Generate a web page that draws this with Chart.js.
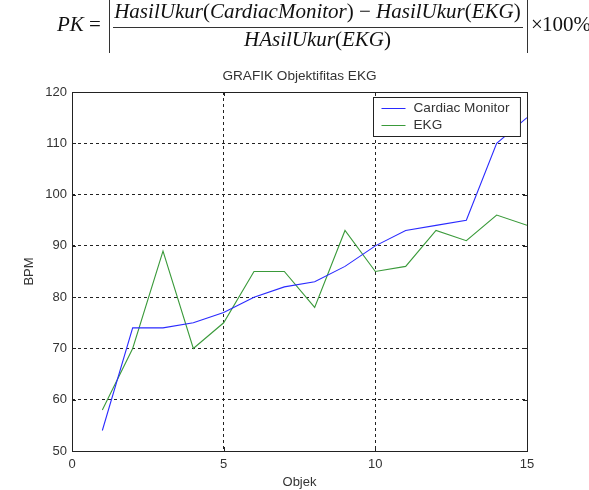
<!DOCTYPE html>
<html>
<head>
<meta charset="utf-8">
<script src="https://cdn.jsdelivr.net/npm/chart.js@4.4.1/dist/chart.umd.min.js"></script>
<style>
    body { margin: 0; background: #fff; }
    #wrap { position: relative; width: 589px; height: 490px; overflow: hidden; }
    #chart { position: absolute; left: 0; top: 0; }
    .f { position: absolute; font-family: 'Liberation Serif', 'Times New Roman', serif; font-style: italic; font-size: 21px; line-height: 21px; color: #111; white-space: nowrap; }
    .up { font-style: normal; }
    .bar { position: absolute; background: #333; }
</style>
</head>
<body>
<div id="wrap">
    <canvas id="chart" width="589" height="490"></canvas>
    <!-- formula above the chart -->
    <div class="f" style="left:57px; top:14.4px;">PK</div>
    <div class="f up" style="left:89px; top:14.4px;">=</div>
    <div class="bar" style="left:108.5px; top:0; width:1.5px; height:53px;"></div>
    <div class="f" style="left:113px; top:1.4px; width:409px; text-align:center;">HasilUkur<span class="up">(</span>CardiacMonitor<span class="up">) − </span>HasilUkur<span class="up">(</span>EKG<span class="up">)</span></div>
    <div class="bar" style="left:113px; top:26.5px; width:410px; height:1.2px;"></div>
    <div class="f" style="left:113px; top:29.4px; width:409px; text-align:center;">HAsilUkur<span class="up">(</span>EKG<span class="up">)</span></div>
    <div class="bar" style="left:526.5px; top:0; width:1.5px; height:53px;"></div>
    <div class="f up" style="left:531px; top:14.4px;">×</div>
    <div class="f up" style="left:542px; top:14.4px;">100%</div>
</div>
<script>
const objek = [1, 2, 3, 4, 5, 6, 7, 8, 9, 10, 11, 12, 13, 14, 15];
const cardiacMonitor = [54, 74, 74, 75, 77, 80, 82, 83, 86, 90, 93, 94, 95, 110, 115];
const ekg = [58, 70, 89, 70, 75, 85, 85, 78, 93, 85, 86, 93, 91, 96, 94];
const xTicks = [0, 5, 10, 15];
const yTicks = [50, 60, 70, 80, 90, 100, 110, 120];
const chartTitle = 'GRAFIK Objektifitas EKG';

const FONT = "'Liberation Sans', Arial, sans-serif";
const TEXT = '#333';

// grid lines only inside the box, box drawn separately
function innerGrid(ctx) {
    const t = ctx.scale.ticks;
    if (ctx.index === 0 || ctx.index === t.length - 1) return 'rgba(0,0,0,0)';
    return '#222';
}

const boxPlugin = {
    id: 'box',
    afterDraw(chart) {
        const { ctx, chartArea: a, scales } = chart;
        ctx.save();
        ctx.strokeStyle = '#222';
        ctx.lineWidth = 1;
        ctx.strokeRect(a.left + 0.5, a.top + 0.5, a.right - a.left, a.bottom - a.top);
        // small inward tick marks
        ctx.beginPath();
        xTicks.forEach(v => {
            const x = Math.round(scales.x.getPixelForValue(v)) + 0.5;
            ctx.moveTo(x, a.bottom); ctx.lineTo(x, a.bottom - 4);
            ctx.moveTo(x, a.top); ctx.lineTo(x, a.top + 4);
        });
        yTicks.forEach(v => {
            const y = Math.round(scales.y.getPixelForValue(v)) + 0.5;
            ctx.moveTo(a.left, y); ctx.lineTo(a.left + 4, y);
            ctx.moveTo(a.right, y); ctx.lineTo(a.right - 4, y);
        });
        ctx.stroke();

        // title centred over the plot box
        ctx.font = '13.6px ' + FONT;
        ctx.fillStyle = TEXT;
        ctx.textAlign = 'center';
        ctx.textBaseline = 'middle';
        ctx.fillText(chartTitle, (a.left + a.right) / 2, a.top - 16);

        // legend box in the top right corner
        ctx.textAlign = 'left';
        const sets = chart.data.datasets;
        const textW = Math.max(...sets.map(d => ctx.measureText(d.label).width));
        const bx = a.right - 154 + 0.5;
        const by = a.top + 5 + 0.5;
        const bw = 8 + 24 + 8 + textW + 11;
        ctx.fillStyle = '#fff';
        ctx.fillRect(bx, by, bw, 39);
        ctx.strokeStyle = '#222';
        ctx.strokeRect(bx, by, bw, 39);
        sets.forEach((d, i) => {
            const y = by + 11 + i * 17;
            ctx.strokeStyle = d.borderColor;
            ctx.beginPath();
            ctx.moveTo(bx + 8, y); ctx.lineTo(bx + 32, y);
            ctx.stroke();
            ctx.fillStyle = TEXT;
            ctx.fillText(d.label, bx + 40, y);
        });
        ctx.restore();
    }
};

const bgPlugin = {
    id: 'bg',
    beforeDraw(chart) {
        const ctx = chart.ctx;
        ctx.save();
        ctx.fillStyle = '#fff';
        ctx.fillRect(0, 0, chart.width, chart.height);
        ctx.restore();
    }
};

new Chart(document.getElementById('chart'), {
    type: 'line',
    data: {
        datasets: [{
            label: 'Cardiac Monitor',
            data: objek.map((x, i) => ({ x: x, y: cardiacMonitor[i] })),
            borderColor: '#2a2aff',
            borderWidth: 1.1,
            pointRadius: 0,
            tension: 0,
            fill: false
        }, {
            label: 'EKG',
            data: objek.map((x, i) => ({ x: x, y: ekg[i] })),
            borderColor: '#3a9a3a',
            borderWidth: 1.1,
            pointRadius: 0,
            tension: 0,
            fill: false
        }]
    },
    options: {
        responsive: false,
        animation: false,
        events: [],
        layout: { padding: { left: 0, right: 62, top: 92, bottom: 0 } },
        plugins: {
            legend: { display: false },
            tooltip: { enabled: false },
            title: { display: false }
        },
        scales: {
            x: {
                type: 'linear',
                min: 0,
                max: 15,
                afterBuildTicks: s => { s.ticks = xTicks.map(v => ({ value: v })); },
                afterFit: s => { s.height = 39; },
                border: { display: false, dash: [3, 3] },
                grid: { color: innerGrid, drawTicks: false, lineWidth: 1 },
                ticks: { color: TEXT, font: { family: FONT, size: 13 }, padding: 6, maxRotation: 0 },
                title: { display: true, text: 'Objek', color: TEXT, font: { family: FONT, size: 13 }, padding: { top: 0, bottom: 0 } }
            },
            y: {
                min: 50,
                max: 120,
                afterBuildTicks: s => { s.ticks = yTicks.map(v => ({ value: v })); },
                afterFit: s => { s.width = 72; },
                border: { display: false, dash: [3, 3] },
                grid: { color: innerGrid, drawTicks: false, lineWidth: 1 },
                ticks: { color: TEXT, font: { family: FONT, size: 13 }, padding: 5 },
                title: { display: true, text: 'BPM', color: TEXT, font: { family: FONT, size: 13 }, padding: { top: 22, bottom: 0 } }
            }
        }
    },
    plugins: [bgPlugin, boxPlugin]
});
</script>
</body>
</html>
